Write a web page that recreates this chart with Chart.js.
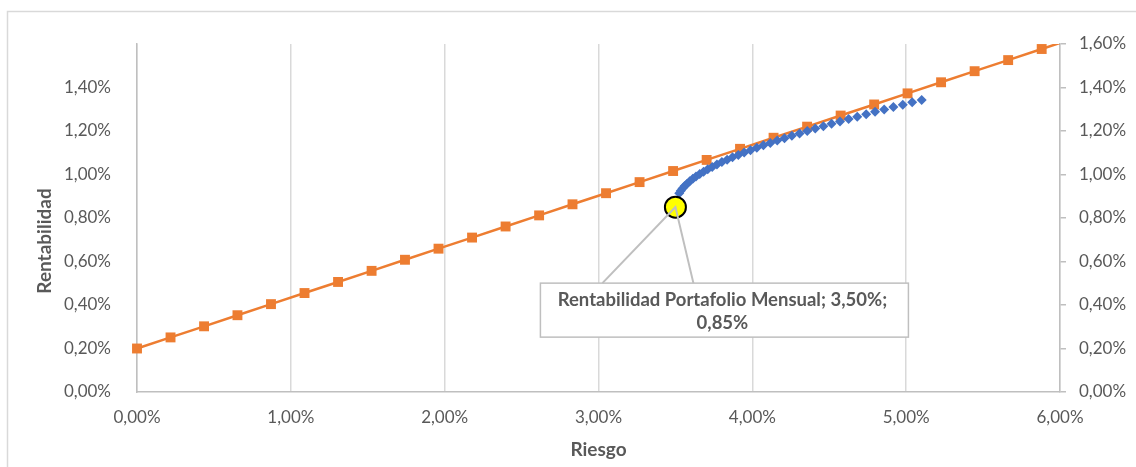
<!DOCTYPE html>
<html lang="es">
<head>
<meta charset="utf-8">
<title>Frontera eficiente y línea del mercado de capitales</title>
<script src="https://cdn.jsdelivr.net/npm/chart.js@4.4.1/dist/chart.umd.min.js"></script>
<style>
  html, body { margin: 0; padding: 0; background: #ffffff; }
  #wrap { width: 1136px; height: 467px; position: relative; }
</style>
</head>
<body>
<div id="wrap"><canvas id="grafico" width="1136" height="467"></canvas></div>
<script>
// Línea del mercado de capitales (riesgo %, rentabilidad %)
const riesgoCML = [0.000, 0.218, 0.436, 0.653, 0.871, 1.089, 1.307, 1.525, 1.742, 1.960,
                   2.178, 2.396, 2.614, 2.831, 3.049, 3.267, 3.485, 3.703, 3.920, 4.138,
                   4.356, 4.574, 4.792, 5.009, 5.227, 5.445, 5.663, 5.881, 6.098];
const rentabilidadCML = [0.200, 0.251, 0.302, 0.353, 0.404, 0.455, 0.506, 0.557, 0.608, 0.659,
                         0.710, 0.761, 0.812, 0.863, 0.914, 0.965, 1.016, 1.067, 1.118, 1.169,
                         1.220, 1.271, 1.322, 1.373, 1.424, 1.475, 1.526, 1.577, 1.628];

// Frontera eficiente (riesgo %, rentabilidad %)
const riesgoFrontera = [3.525, 3.535, 3.546, 3.560, 3.576, 3.593, 3.613, 3.634, 3.658, 3.683,
                        3.710, 3.739, 3.770, 3.802, 3.836, 3.871, 3.909, 3.947, 3.988, 4.029,
                        4.072, 4.117, 4.162, 4.209, 4.257, 4.307, 4.357, 4.409, 4.462, 4.515,
                        4.570, 4.626, 4.682, 4.740, 4.798, 4.857, 4.917, 4.978, 5.039, 5.101];
const rentabilidadFrontera = [0.914, 0.925, 0.936, 0.947, 0.958, 0.969, 0.980, 0.991, 1.002, 1.013,
                              1.024, 1.035, 1.046, 1.057, 1.068, 1.079, 1.090, 1.101, 1.112, 1.123,
                              1.134, 1.145, 1.156, 1.167, 1.178, 1.189, 1.200, 1.211, 1.222, 1.233,
                              1.244, 1.255, 1.266, 1.277, 1.288, 1.299, 1.310, 1.321, 1.332, 1.343];

// Portafolio mensual
const portafolioNombre = 'Rentabilidad Portafolio Mensual';
const riesgoPortafolio = [3.50];
const rentabilidadPortafolio = [0.85];

// Ejes
const ticksRiesgo = [0, 1, 2, 3, 4, 5, 6];
const ticksRentabilidad = [0, 0.2, 0.4, 0.6, 0.8, 1.0, 1.2, 1.4, 1.6];
const ticksRentabilidadIzq = [0, 0.2, 0.4, 0.6, 0.8, 1.0, 1.2, 1.4];

const FUENTE = 'Lato, "Open Sans", sans-serif';
const GRIS_TEXTO = '#595959';
const GRIS_EJE = '#bfbfbf';
const GRIS_REJILLA = '#d9d9d9';

const pct = v => v.toFixed(2).replace('.', ',') + '%';
const puntos = (xs, ys) => xs.map((x, i) => ({ x: x, y: ys[i] }));
const fijarTicks = valores => scale => { scale.ticks = valores.map(v => ({ value: v })); };

// Marco exterior del gráfico
const marco = {
  id: 'marco',
  beforeDraw(chart) {
    const ctx = chart.ctx;
    ctx.save();
    ctx.fillStyle = '#ffffff';
    ctx.fillRect(0, 0, chart.width, chart.height);
    ctx.strokeStyle = GRIS_REJILLA;
    ctx.lineWidth = 1.5;
    ctx.strokeRect(7.5, 11.5, chart.width + 20, chart.height + 20);
    ctx.restore();
  }
};

// Títulos de los ejes
const titulosEjes = {
  id: 'titulosEjes',
  afterDraw(chart) {
    const { ctx, chartArea } = chart;
    ctx.save();
    ctx.fillStyle = GRIS_TEXTO;
    ctx.font = 'bold 19px ' + FUENTE;
    ctx.textAlign = 'center';
    ctx.textBaseline = 'middle';
    ctx.fillText('Riesgo', (chartArea.left + chartArea.right) / 2, chartArea.bottom + 58);
    ctx.translate(chartArea.left - 92, chartArea.top + 197);
    ctx.rotate(-Math.PI / 2);
    ctx.fillText('Rentabilidad', 0, 0);
    ctx.restore();
  }
};

// Etiqueta con flecha del portafolio
const etiquetaPortafolio = {
  id: 'etiquetaPortafolio',
  afterDatasetsDraw(chart) {
    const meta = chart.getDatasetMeta(2);
    if (!meta.data.length) return;
    const px = meta.data[0].x, py = meta.data[0].y;
    const ctx = chart.ctx;
    const caja = { l: px - 135, r: px + 233, t: py + 76, b: py + 130 };
    ctx.save();
    // caja
    ctx.fillStyle = '#ffffff';
    ctx.fillRect(caja.l, caja.t, caja.r - caja.l, caja.b - caja.t);
    ctx.strokeStyle = GRIS_EJE;
    ctx.lineWidth = 1.5;
    ctx.strokeRect(caja.l, caja.t, caja.r - caja.l, caja.b - caja.t);
    // guías hacia el punto
    ctx.lineWidth = 2;
    ctx.beginPath();
    ctx.moveTo(px - 73, caja.t);
    ctx.lineTo(px, py);
    ctx.lineTo(px + 18, caja.t);
    ctx.stroke();
    // texto
    ctx.fillStyle = GRIS_TEXTO;
    ctx.font = 'bold 18.5px ' + FUENTE;
    ctx.textAlign = 'center';
    ctx.textBaseline = 'middle';
    const cx = (caja.l + caja.r) / 2 - 2;
    ctx.fillText(portafolioNombre + '; ' + pct(riesgoPortafolio[0]) + ';', cx, caja.t + 17);
    ctx.fillText(pct(rentabilidadPortafolio[0]), cx, caja.t + 40);
    ctx.restore();
  }
};

new Chart(document.getElementById('grafico'), {
  type: 'scatter',
  data: {
    datasets: [
      {
        label: 'CML',
        data: puntos(riesgoCML, rentabilidadCML),
        showLine: true,
        borderColor: '#ED7D31',
        backgroundColor: '#ED7D31',
        borderWidth: 2.5,
        pointStyle: 'rect',
        pointRadius: 7,
        pointHoverRadius: 7,
        pointBorderWidth: 0,
        tension: 0,
        order: 3,
        clip: { left: 10, top: 0, right: 0, bottom: 10 }
      },
      {
        label: 'Frontera eficiente',
        data: puntos(riesgoFrontera, rentabilidadFrontera),
        showLine: false,
        borderColor: '#4472C4',
        backgroundColor: '#4472C4',
        pointStyle: 'rectRot',
        pointRadius: 5,
        pointHoverRadius: 5,
        pointBorderWidth: 0,
        order: 2,
        clip: false
      },
      {
        label: portafolioNombre,
        data: puntos(riesgoPortafolio, rentabilidadPortafolio),
        showLine: false,
        backgroundColor: '#FFFF00',
        borderColor: '#000000',
        borderWidth: 2,
        pointStyle: 'circle',
        pointRadius: 10.5,
        pointHoverRadius: 10.5,
        order: 1,
        clip: false
      }
    ]
  },
  options: {
    responsive: false,
    animation: false,
    events: [],
    layout: { padding: { top: 44, left: 0, right: 0, bottom: 0 } },
    plugins: { legend: { display: false }, tooltip: { enabled: false } },
    scales: {
      x: {
        type: 'linear',
        min: 0, max: 6,
        afterBuildTicks: fijarTicks(ticksRiesgo),
        afterFit(scale) { scale.height = 75; },
        ticks: { callback: v => pct(v), color: GRIS_TEXTO, font: { family: FUENTE, size: 17 }, padding: 15, maxRotation: 0 },
        grid: { display: true, drawOnChartArea: true, drawTicks: false, color: GRIS_REJILLA, lineWidth: 1.5 },
        border: { display: true, color: GRIS_EJE, width: 1.5 }
      },
      y: {
        type: 'linear',
        position: 'left',
        min: 0, max: 1.6,
        afterBuildTicks: fijarTicks(ticksRentabilidadIzq),
        afterFit(scale) { scale.width = 137; },
        ticks: { callback: v => pct(v), color: GRIS_TEXTO, font: { family: FUENTE, size: 17 }, padding: 18 },
        grid: { display: false },
        border: { display: true, color: GRIS_EJE, width: 1.5 }
      },
      y2: {
        type: 'linear',
        position: 'right',
        min: 0, max: 1.6,
        afterBuildTicks: fijarTicks(ticksRentabilidad),
        afterFit(scale) { scale.width = 76; },
        ticks: { callback: v => pct(v), color: GRIS_TEXTO, font: { family: FUENTE, size: 17 }, padding: 13 },
        grid: { display: true, drawOnChartArea: false, drawTicks: true, tickLength: 6, color: GRIS_EJE, lineWidth: 1.5 },
        border: { display: true, color: GRIS_EJE, width: 1.5 }
      }
    }
  },
  plugins: [marco, titulosEjes, etiquetaPortafolio]
});
</script>
</body>
</html>
